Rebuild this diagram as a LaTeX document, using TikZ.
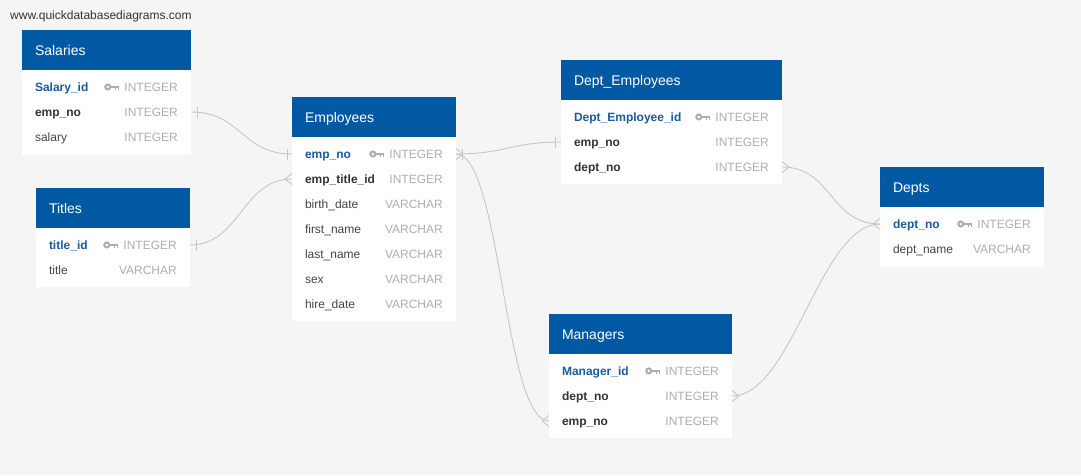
\documentclass[tikz,border=0pt]{standalone}
\usepackage{fontspec}
\setmainfont{Liberation Sans}
\usetikzlibrary{positioning}

\definecolor{hdrblue}{RGB}{0,89,162}
\definecolor{pkblue}{RGB}{25,92,158}
\definecolor{typegray}{RGB}{172,174,176}
\definecolor{fktext}{RGB}{51,51,51}
\definecolor{fieldtext}{RGB}{68,68,68}
\definecolor{canvas}{RGB}{244,245,244}
\definecolor{linkgray}{RGB}{198,198,198}

\begin{document}
\begin{tikzpicture}[x=1pt, y=-1pt, every node/.style={font=\fontsize{12}{14}\selectfont},
	hdr/.style={fill=hdrblue, text=white, font=\fontsize{14}{16}\selectfont, anchor=north west, inner xsep=13pt, inner ysep=0pt, outer sep=0pt, minimum height=40pt, text height=11.5pt, text depth=1.5pt, align=left},
	tbody/.style={fill=white, inner sep=0pt, outer sep=0pt},
	field/.style={inner xsep=13pt, inner ysep=0pt, outer sep=0pt, minimum height=25pt, text height=10pt, text depth=1.5pt, align=left, text=fieldtext},
	pk/.style={field, text=pkblue, font=\fontsize{12}{14}\selectfont\bfseries},
	fk/.style={field, text=fktext, font=\fontsize{12}{14}\selectfont\bfseries},
	typ/.style={inner sep=0pt, text=typegray, anchor=base east},
	link/.style={draw=linkgray, line width=0.9pt},
	pkkey/.pic={
		\fill[typegray] (-11.5,0) circle[radius=3.6pt];
		\fill[white] (-11.5,0) circle[radius=1.4pt];
		\fill[typegray] (-8.5,-1.4) rectangle (0,1.2);
		\fill[typegray] (-4.6,1.2) rectangle (-2.9,3.4);
		\fill[typegray] (-1.7,1.2) rectangle (0,3.4);
	}]
	\fill[canvas] (0,0) rectangle (1081,475);
	\useasboundingbox (0,0) rectangle (1081,475);
	\node[anchor=west, text=fktext, inner sep=0pt] (wm) at (10,16) {www.quickdatabasediagrams.com};

	% Salaries
	\node[hdr, text width=143pt] (sal) at (22,30) {Salaries};
	\node[tbody, minimum width=169pt, minimum height=85pt, below=0pt of sal] (sal-body) {};
	\node[pk, text width=143pt, below right=4.5pt and 0pt of sal.south west] (sal-id) {Salary\_id};
	\node[fk, text width=143pt, below=0pt of sal-id] (sal-emp) {emp\_no};
	\node[field, text width=143pt, below=0pt of sal-emp] (sal-amt) {salary};
	\node[typ] (sal-id-t) at ([xshift=-13pt]sal-id.base east) {INTEGER};
	\node[typ] (sal-emp-t) at ([xshift=-13pt]sal-emp.base east) {INTEGER};
	\node[typ] (sal-amt-t) at ([xshift=-13pt]sal-amt.base east) {INTEGER};
	\pic at ([xshift=-5pt, yshift=4.3pt]sal-id-t.base west) {pkkey};

	% Titles
	\node[hdr, text width=128pt] (tit) at (36,188) {Titles};
	\node[tbody, minimum width=154pt, minimum height=59pt, below=0pt of tit] (tit-body) {};
	\node[pk, text width=128pt, below right=4.5pt and 0pt of tit.south west] (tit-id) {title\_id};
	\node[field, text width=128pt, below=0pt of tit-id] (tit-title) {title};
	\node[typ] (tit-id-t) at ([xshift=-13pt]tit-id.base east) {INTEGER};
	\node[typ] (tit-title-t) at ([xshift=-13pt]tit-title.base east) {VARCHAR};
	\pic at ([xshift=-5pt, yshift=4.3pt]tit-id-t.base west) {pkkey};

	% Employees
	\node[hdr, text width=138pt] (emp) at (292,97) {Employees};
	\node[tbody, minimum width=164pt, minimum height=184pt, below=0pt of emp] (emp-body) {};
	\node[pk, text width=138pt, below right=4.5pt and 0pt of emp.south west] (emp-no) {emp\_no};
	\node[fk, text width=138pt, below=0pt of emp-no] (emp-title) {emp\_title\_id};
	\node[field, text width=138pt, below=0pt of emp-title] (emp-birth) {birth\_date};
	\node[field, text width=138pt, below=0pt of emp-birth] (emp-first) {first\_name};
	\node[field, text width=138pt, below=0pt of emp-first] (emp-last) {last\_name};
	\node[field, text width=138pt, below=0pt of emp-last] (emp-sex) {sex};
	\node[field, text width=138pt, below=0pt of emp-sex] (emp-hire) {hire\_date};
	\node[typ] (emp-no-t) at ([xshift=-13pt]emp-no.base east) {INTEGER};
	\node[typ] (emp-title-t) at ([xshift=-13pt]emp-title.base east) {INTEGER};
	\node[typ] (emp-birth-t) at ([xshift=-13pt]emp-birth.base east) {VARCHAR};
	\node[typ] (emp-first-t) at ([xshift=-13pt]emp-first.base east) {VARCHAR};
	\node[typ] (emp-last-t) at ([xshift=-13pt]emp-last.base east) {VARCHAR};
	\node[typ] (emp-sex-t) at ([xshift=-13pt]emp-sex.base east) {VARCHAR};
	\node[typ] (emp-hire-t) at ([xshift=-13pt]emp-hire.base east) {VARCHAR};
	\pic at ([xshift=-5pt, yshift=4.3pt]emp-no-t.base west) {pkkey};

	% Dept_Employees
	\node[hdr, text width=195pt] (de) at (561,60) {Dept\_Employees};
	\node[tbody, minimum width=221pt, minimum height=84pt, below=0pt of de] (de-body) {};
	\node[pk, text width=195pt, below right=4.5pt and 0pt of de.south west] (de-id) {Dept\_Employee\_id};
	\node[fk, text width=195pt, below=0pt of de-id] (de-emp) {emp\_no};
	\node[fk, text width=195pt, below=0pt of de-emp] (de-dept) {dept\_no};
	\node[typ] (de-id-t) at ([xshift=-13pt]de-id.base east) {INTEGER};
	\node[typ] (de-emp-t) at ([xshift=-13pt]de-emp.base east) {INTEGER};
	\node[typ] (de-dept-t) at ([xshift=-13pt]de-dept.base east) {INTEGER};
	\pic at ([xshift=-5pt, yshift=4.3pt]de-id-t.base west) {pkkey};

	% Depts
	\node[hdr, text width=138pt] (dep) at (880,167) {Depts};
	\node[tbody, minimum width=164pt, minimum height=60pt, below=0pt of dep] (dep-body) {};
	\node[pk, text width=138pt, below right=4.5pt and 0pt of dep.south west] (dep-no) {dept\_no};
	\node[field, text width=138pt, below=0pt of dep-no] (dep-name) {dept\_name};
	\node[typ] (dep-no-t) at ([xshift=-13pt]dep-no.base east) {INTEGER};
	\node[typ] (dep-name-t) at ([xshift=-13pt]dep-name.base east) {VARCHAR};
	\pic at ([xshift=-5pt, yshift=4.3pt]dep-no-t.base west) {pkkey};

	% Managers
	\node[hdr, text width=157pt] (mgr) at (549,314) {Managers};
	\node[tbody, minimum width=183pt, minimum height=84pt, below=0pt of mgr] (mgr-body) {};
	\node[pk, text width=157pt, below right=4.5pt and 0pt of mgr.south west] (mgr-id) {Manager\_id};
	\node[fk, text width=157pt, below=0pt of mgr-id] (mgr-dept) {dept\_no};
	\node[fk, text width=157pt, below=0pt of mgr-dept] (mgr-emp) {emp\_no};
	\node[typ] (mgr-id-t) at ([xshift=-13pt]mgr-id.base east) {INTEGER};
	\node[typ] (mgr-dept-t) at ([xshift=-13pt]mgr-dept.base east) {INTEGER};
	\node[typ] (mgr-emp-t) at ([xshift=-13pt]mgr-emp.base east) {INTEGER};
	\pic at ([xshift=-5pt, yshift=4.3pt]mgr-id-t.base west) {pkkey};

	% relationships
	\draw[link] (sal-emp.east) .. controls +(50,0) and +(-50,0) .. (emp-no.west);
	\draw[link] ([xshift=6pt]sal-emp.east) +(0,-5.5) -- +(0,5.5);
	\draw[link] ([xshift=-5pt]emp-no.west) +(0,-5.5) -- +(0,5.5);

	\draw[link] (tit-id.east) .. controls +(50,0) and +(-50,0) .. (emp-title.west);
	\draw[link] ([xshift=6pt]tit-id.east) +(0,-5.5) -- +(0,5.5);
	\draw[link] ([xshift=-7pt]emp-title.west) -- +(7,-5.5) +(0,0) -- +(7,5.5);

	\draw[link] (emp-no.east) .. controls +(50,0) and +(-50,0) .. (de-emp.west);
	\draw[link] ([xshift=7pt]emp-no.east) -- +(-7,-5.5) +(0,0) -- +(-7,5.5);
	\draw[link] ([xshift=6pt]emp-no.east) +(0,-5.5) -- +(0,5.5);
	\draw[link] ([xshift=-6pt]de-emp.west) +(0,-5.5) -- +(0,5.5);

	\draw[link] (emp-no.east) .. controls +(45,0) and +(-45,0) .. (mgr-emp.west);
	\draw[link] ([xshift=-7pt]mgr-emp.west) -- +(7,-5.5) +(0,0) -- +(7,5.5);

	\draw[link] (de-dept.east) .. controls +(50,0) and +(-50,0) .. (dep-no.west);
	\draw[link] ([xshift=7pt]de-dept.east) -- +(-7,-5.5) +(0,0) -- +(-7,5.5);
	\draw[link] ([xshift=-7pt]dep-no.west) -- +(7,-5.5) +(0,0) -- +(7,5.5);

	\draw[link] (mgr-dept.east) .. controls +(60,0) and +(-60,0) .. (dep-no.west);
	\draw[link] ([xshift=7pt]mgr-dept.east) -- +(-7,-5.5) +(0,0) -- +(-7,5.5);
\end{tikzpicture}
\end{document}
